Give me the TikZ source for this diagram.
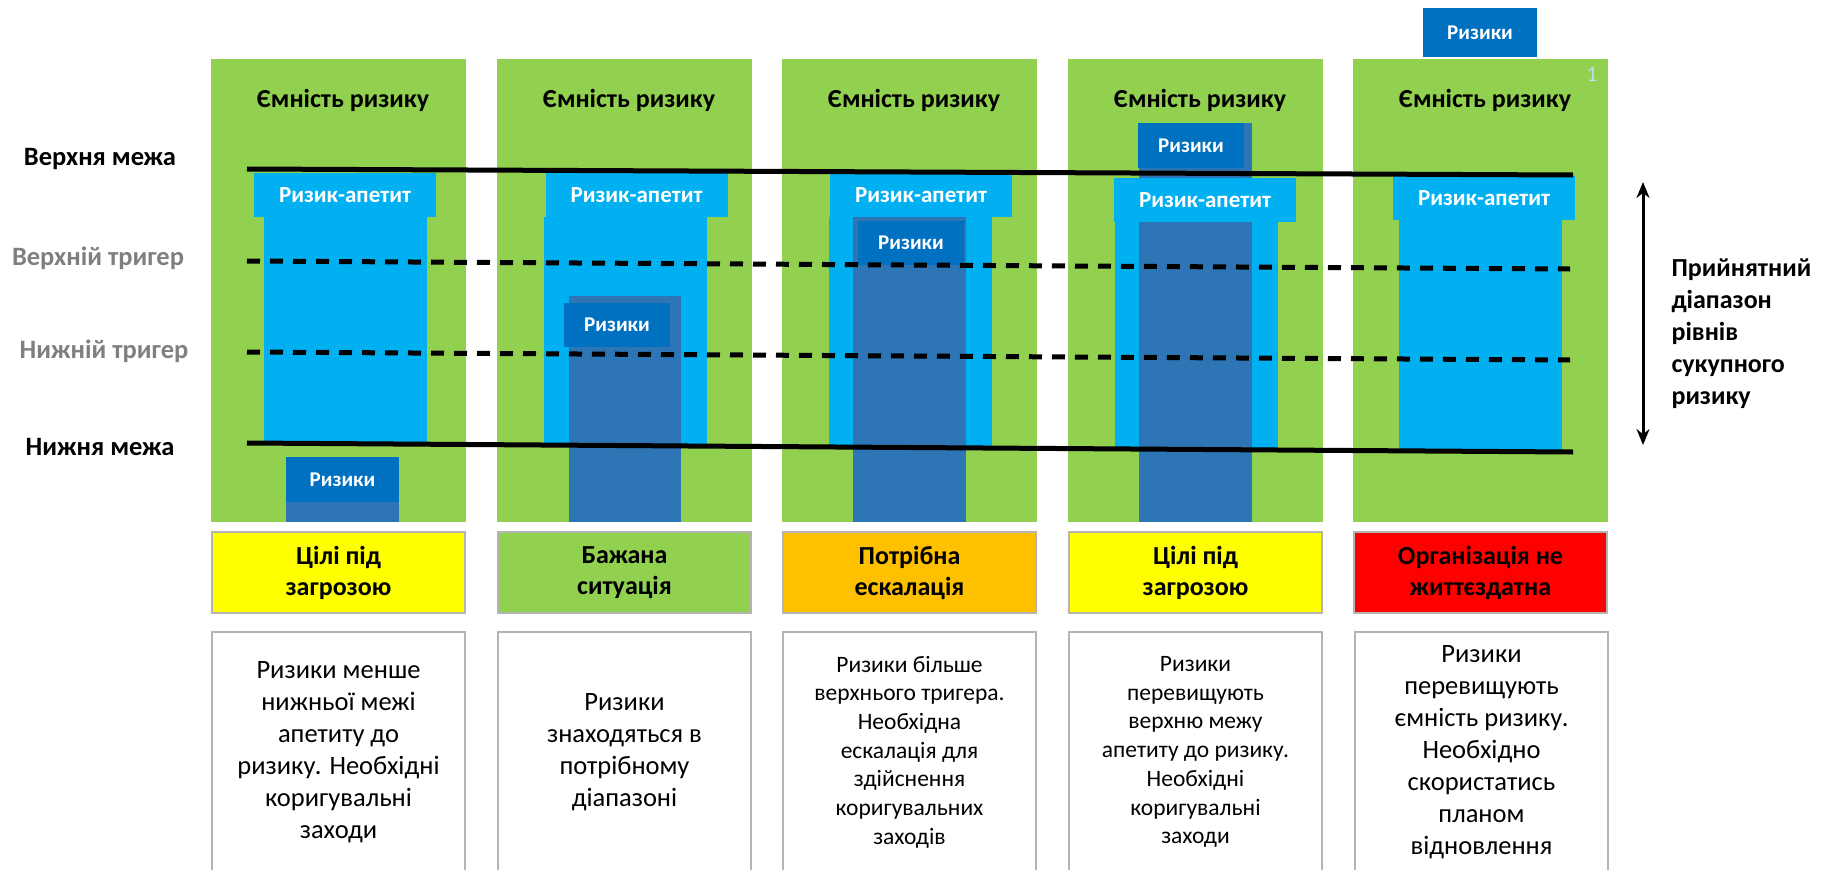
\documentclass[tikz,border=0pt]{standalone}
\usepackage{fontspec}
\setmainfont{Carlito}
\usetikzlibrary{arrows.meta, positioning}
\definecolor{capgreen}{HTML}{92D050}
\definecolor{apblue}{HTML}{00B0F0}
\definecolor{riskblue}{HTML}{0070C0}
\definecolor{riskcol}{HTML}{2E75B6}
\definecolor{warnyellow}{HTML}{FFFF00}
\definecolor{escorange}{HTML}{FFC000}
\definecolor{failred}{HTML}{FF0000}
\definecolor{triggray}{HTML}{7F7F7F}
\definecolor{boxgray}{HTML}{B4B4B4}
\definecolor{numblue}{HTML}{C6DBEF}

\begin{document}
\begin{tikzpicture}[x=1pt, y=-1pt, >=Stealth,
    hd/.style={font=\bfseries\fontsize{26}{30}\selectfont},
    ap/.style={fill=apblue, text=white, font=\bfseries\fontsize{23}{28}\selectfont,
        minimum width=182pt, minimum height=44pt, inner sep=0pt},
    rk/.style={fill=riskblue, text=white, font=\bfseries\fontsize{21}{25}\selectfont,
        minimum width=106pt, minimum height=44pt, inner sep=0pt},
    st/.style={draw=boxgray, line width=1.5pt, minimum width=253pt, minimum height=81pt,
        align=center, inner sep=0pt, font=\bfseries\fontsize{26}{31}\selectfont},
    nt/.style={draw=boxgray, line width=2pt, minimum width=253pt, minimum height=240pt,
        align=center, inner sep=0pt, font=\fontsize{26.5}{32}\selectfont},
    nts/.style={nt, font=\fontsize{23.5}{28.7}\selectfont},
    lvl/.style={font=\bfseries\fontsize{26.5}{30}\selectfont},
    bound/.style={line width=5pt},
    trig/.style={line width=5pt, dash pattern=on 13pt off 10pt}]
    \useasboundingbox (0,0) rectangle (1824,870);

    \foreach \x in {211,497,782,1068,1353}
        \fill[capgreen] (\x,59) rectangle ++(255,463);

    \fill[apblue] (264,217) rectangle (427,445);
    \fill[apblue] (544,217) rectangle (707,447);
    \fill[apblue] (829,217) rectangle (992,448);
    \fill[apblue] (1115,222) rectangle (1278,450);
    \fill[apblue] (1399,220) rectangle (1562,452);

    \fill[riskcol] (286,457) rectangle (399,522);
    \fill[riskcol] (569,296) rectangle (681,522);
    \fill[riskcol] (853,217) rectangle (966,522);
    \fill[riskcol] (1139,123) rectangle (1252,522);

    \node[hd] (h1) at (343,100) {Ємність ризику};
    \node[hd] (h2) at (629,100) {Ємність ризику};
    \node[hd] (h3) at (914,100) {Ємність ризику};
    \node[hd] (h4) at (1200,100) {Ємність ризику};
    \node[hd] (h5) at (1485,100) {Ємність ризику};
    \node[text=numblue, font=\fontsize{22}{26}\selectfont] (num) at (1592,74) {1};

    \node[ap] (ap1) at (345,195) {Ризик-апетит};
    \node[ap] (ap2) at (636.5,195) {Ризик-апетит};
    \node[ap] (ap3) at (921,195) {Ризик-апетит};
    \node[ap] (ap4) at (1205,200) {Ризик-апетит};
    \node[ap] (ap5) at (1484,198) {Ризик-апетит};

    \node[rk, minimum width=113pt, minimum height=45pt] (rk1) at (342.5,479.5) {Ризики};
    \node[rk] (rk2) at (617,325) {Ризики};
    \node[rk] (rk3) at (911,243) {Ризики};
    \node[rk, minimum height=45pt] (rk4) at (1191,145.5) {Ризики};
    \node[rk, minimum width=114pt, minimum height=49pt] (rk5) at (1480,32.5) {Ризики};

    \node[lvl] (ub) at (100,159) {Верхня межа};
    \node[lvl, text=triggray] (ut) at (98,258) {Верхній тригер};
    \node[lvl, text=triggray] (lt) at (104,351) {Нижній тригер};
    \node[lvl] (lb) at (100,447) {Нижня межа};

    \coordinate (ub-w) at (247,169);  \coordinate (ub-e) at (1573,175);
    \coordinate (ut-w) at (247,261);  \coordinate (ut-e) at (1570,269);
    \coordinate (lt-w) at (247,352);  \coordinate (lt-e) at (1570,360);
    \coordinate (lb-w) at (247,443);  \coordinate (lb-e) at (1573,452);
    \draw[bound] (ub-w) -- (ub-e);
    \draw[trig] (ut-w) -- (ut-e);
    \draw[trig] (lt-w) -- (lt-e);
    \draw[bound] (lb-w) -- (lb-e);

    \coordinate (rng-t) at (1643,182);
    \coordinate (rng-b) at (1643,445);
    \draw[{Stealth[length=16pt, width=13pt]}-{Stealth[length=16pt, width=13pt]}, line width=3pt] (rng-t) -- (rng-b);
    \node[anchor=west, align=left, font=\bfseries\fontsize{26}{32}\selectfont] (rng) at (1668,334)
        {Прийнятний\\діапазон\\рівнів\\сукупного\\ризику};

    \node[st, fill=warnyellow] (st1) at (338.5,572.5) {Цілі під\\загрозою};
    \node[st, fill=capgreen] (st2) at (624.5,572.5) {Бажана\\ситуація};
    \node[st, fill=escorange] (st3) at (909.5,572.5) {Потрібна\\ескалація};
    \node[st, fill=warnyellow] (st4) at (1195.5,572.5) {Цілі під\\загрозою};
    \node[st, fill=failred] (st5) at (1480.5,572.5) {Організація не\\життєздатна};

    \node[nt] (nt1) at (338.5,752) {Ризики менше\\нижньої межі\\апетиту до\\ризику. Необхідні\\коригувальні\\заходи};
    \node[nt] (nt2) at (624.5,752) {Ризики\\знаходяться в\\потрібному\\діапазоні};
    \node[nts] (nt3) at (909.5,752) {Ризики більше\\верхнього тригера.\\Необхідна\\ескалація для\\здійснення\\коригувальних\\заходів};
    \node[nts] (nt4) at (1195.5,752) {Ризики\\перевищують\\верхню межу\\апетиту до ризику.\\Необхідні\\коригувальні\\заходи};
    \node[nt] (nt5) at (1481.5,752) {Ризики\\перевищують\\ємність ризику.\\Необхідно\\скористатись\\планом\\відновлення};
\end{tikzpicture}
\end{document}
